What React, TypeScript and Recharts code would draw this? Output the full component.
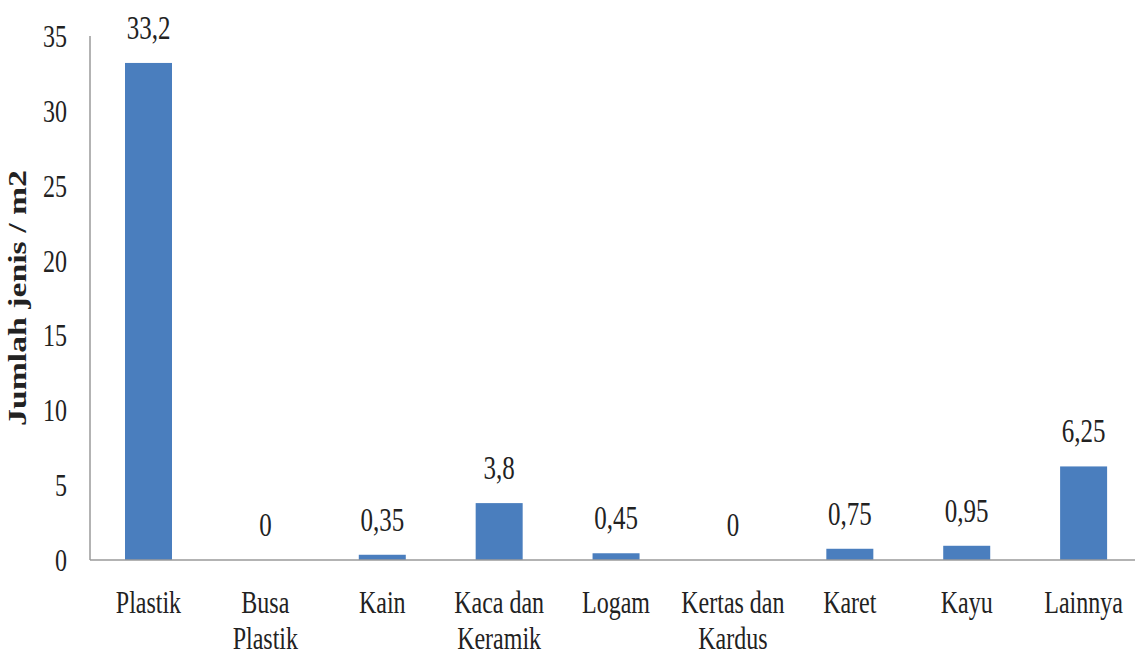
import React from "react";
import { BarChart, Bar, XAxis, YAxis, LabelList } from "recharts";

const categories = [
  "Plastik",
  "Busa\nPlastik",
  "Kain",
  "Kaca dan\nKeramik",
  "Logam",
  "Kertas dan\nKardus",
  "Karet",
  "Kayu",
  "Lainnya",
];
const values = [33.2, 0, 0.35, 3.8, 0.45, 0, 0.75, 0.95, 6.25];
const yTicks = [0, 5, 10, 15, 20, 25, 30, 35];
const yLabel = "Jumlah jenis / m2";

const FONT = "'Liberation Serif', 'Times New Roman', serif";
const STRETCH = 1.35; // source image is stretched vertically
const TEXT = "#222";
const BAR = "#4a7ebe";

const data = categories.map((name, i) => ({ name, value: values[i] }));

const fmt = (v: number) => String(v).replace(".", ",");

function XTick({ x, y, payload }: any) {
  const lines = String(payload.value).split("\n");
  return (
    <g>
      {lines.map((line, i) => (
        <text
          key={i}
          transform={`translate(${x},${y + 53 + i * 36}) scale(1,${STRETCH})`}
          textAnchor="middle"
          fontFamily={FONT}
          fontSize={24}
          fill={TEXT}
        >
          {line}
        </text>
      ))}
    </g>
  );
}

function YTick({ y, payload }: any) {
  return (
    <text
      transform={`translate(67,${y + 11}) scale(1,${STRETCH})`}
      textAnchor="end"
      fontFamily={FONT}
      fontSize={24}
      fill={TEXT}
    >
      {payload.value}
    </text>
  );
}

function ValueLabel({ x, y, width, height, value }: any) {
  // zero bars get a 1px min size; label is placed from the baseline
  const top = value === 0 ? y + height : y;
  return (
    <text
      transform={`translate(${x + width / 2},${top - 24}) scale(1,${STRETCH})`}
      textAnchor="middle"
      fontFamily={FONT}
      fontSize={25}
      fill={TEXT}
    >
      {fmt(value)}
    </text>
  );
}

function BarShape(props: any) {
  const { x, y, width, height, payload } = props;
  if (!payload || payload.value === 0) return <g />;
  return <rect x={x} y={y} width={width} height={height} fill={BAR} />;
}

function YLabel() {
  return (
    <text
      transform={`translate(26,298) scale(1,${STRETCH}) rotate(-90)`}
      textAnchor="middle"
      fontFamily={FONT}
      fontWeight="bold"
      fontSize={25}
      fill={TEXT}
    >
      {yLabel}
    </text>
  );
}

export default function App() {
  return (
    <div style={{ width: 1135, height: 655, overflow: "hidden", background: "#fff" }}>
      <style>{"body{margin:0}"}</style>
      <BarChart
        width={1160}
        height={655}
        data={data}
        margin={{ top: 36, right: 18, bottom: 0, left: 0 }}
      >
        <XAxis
          dataKey="name"
          interval={0}
          height={95}
          tickSize={0}
          tickMargin={0}
          tick={<XTick />}
          axisLine={{ stroke: "#9a9a9a", strokeWidth: 1.5 }}
        />
        <YAxis
          domain={[0, 35]}
          ticks={yTicks}
          width={90}
          tickSize={0}
          tick={<YTick />}
          axisLine={{ stroke: "#9a9a9a", strokeWidth: 1.5 }}
          label={<YLabel />}
        />
        <Bar
          dataKey="value"
          fill={BAR}
          barSize={47}
          minPointSize={1}
          shape={<BarShape />}
          isAnimationActive={false}
        >
          <LabelList dataKey="value" content={<ValueLabel />} />
        </Bar>
      </BarChart>
    </div>
  );
}
